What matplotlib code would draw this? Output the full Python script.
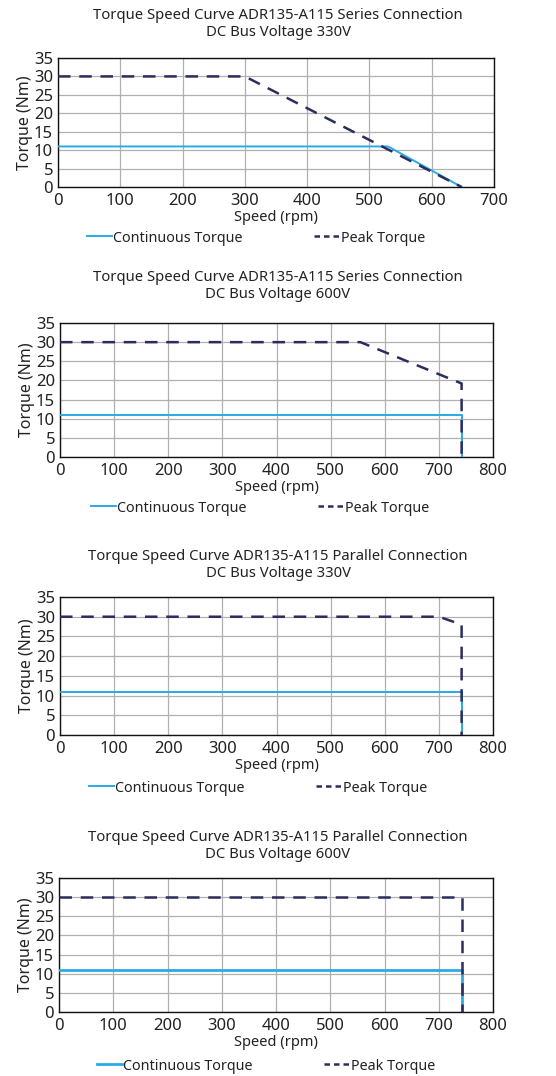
import matplotlib

matplotlib.use("Agg")
from matplotlib import pyplot as plt
from matplotlib.lines import Line2D

plt.rcParams["font.family"] = ["Noto Sans", "DejaVu Sans"]

# chart titles
titles = [
    "Torque Speed Curve ADR135-A115 Series Connection\nDC Bus Voltage 330V",
    "Torque Speed Curve ADR135-A115 Series Connection\nDC Bus Voltage 600V",
    "Torque Speed Curve ADR135-A115 Parallel Connection\nDC Bus Voltage 330V",
    "Torque Speed Curve ADR135-A115 Parallel Connection\nDC Bus Voltage 600V",
]

# continuous torque curves (speed rpm, torque Nm)
cont_speed = [
    [0, 530, 648],
    [0, 742, 742],
    [0, 742, 742],
    [0, 742, 742],
]
cont_torque = [
    [11, 11, 0],
    [11, 11, 0],
    [11, 11, 0],
    [11, 11, 0],
]

# peak torque curves
peak_speed = [
    [0, 300, 648],
    [0, 555, 742, 742],
    [0, 700, 742, 742],
    [0, 742, 742],
]
peak_torque = [
    [30, 30, 0],
    [30, 30, 19.2, 0],
    [30, 30, 28, 0],
    [30, 30, 0],
]

x_max = [700, 800, 800, 800]

# axes boxes in pixels: left, top, right, bottom
W, H = 556, 1076
boxes = [
    (58, 58, 494, 187),
    (60, 323, 493, 457),
    (60, 597, 493, 735),
    (59, 878, 493, 1012),
]
title_y = [24, 286, 565, 846]
legend_y = [238, 508, 788, 1066]
legend_x = [256, 260, 258, 266]
cont_lw = [1.4, 1.4, 1.4, 2.0]

CONT_COLOR = "#29abe2"
PEAK_COLOR = "#2b2d5e"
TEXT_COLOR = "#222222"

fig = plt.figure(figsize=(W / 100, H / 100), dpi=100)

for i in range(4):
    l, t, r, b = boxes[i]
    ax = fig.add_axes([l / W, 1 - b / H, (r - l) / W, (b - t) / H])
    ax.plot(cont_speed[i], cont_torque[i], color=CONT_COLOR, lw=cont_lw[i],
            zorder=3)
    ax.plot(peak_speed[i], peak_torque[i], color=PEAK_COLOR, lw=1.8,
            ls=(0, (5, 3.5)), zorder=4)
    ax.set_xlim(0, x_max[i])
    ax.set_ylim(0, 35)
    ax.set_xticks(range(0, x_max[i] + 1, 100))
    ax.set_yticks(range(0, 36, 5))
    ax.grid(True, color="#b0b0b0", lw=0.9)
    ax.set_axisbelow(True)
    ax.tick_params(length=0, labelsize=12, colors=TEXT_COLOR)
    ax.tick_params(axis="x", pad=4)
    ax.tick_params(axis="y", pad=3.5)
    for spine in ax.spines.values():
        spine.set_color("#111111")
        spine.set_linewidth(1.0)
    ax.set_xlabel("Speed (rpm)", fontsize=10.5, labelpad=1, color=TEXT_COLOR)
    ax.set_ylabel("Torque (Nm)", fontsize=11.5, labelpad=1, color=TEXT_COLOR)
    fig.text(0.5, 1 - title_y[i] / H, titles[i], ha="center", va="center",
             fontsize=10.7, linespacing=1.15, color=TEXT_COLOR)

    handles = [
        Line2D([], [], color=CONT_COLOR, lw=cont_lw[i]),
        Line2D([], [], color=PEAK_COLOR, lw=1.8, ls=(0, (2.2, 1.6))),
    ]
    fig.legend(handles, ["Continuous Torque", "Peak Torque"], loc="center",
               bbox_to_anchor=(legend_x[i] / W, 1 - legend_y[i] / H), ncol=2,
               frameon=False, fontsize=10.3, handlelength=1.75,
               handletextpad=0.1, columnspacing=5.0, borderpad=0,
               labelcolor=TEXT_COLOR)

fig.savefig("out.png", dpi=100)
plt.close(fig)
